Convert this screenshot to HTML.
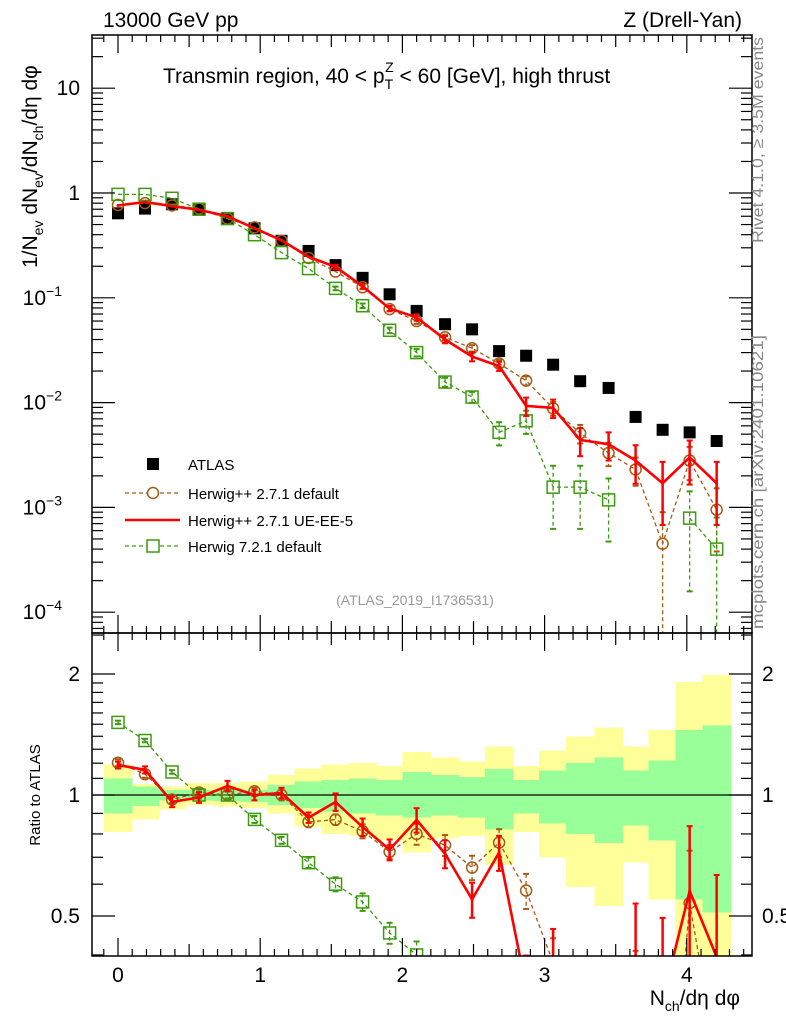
<!DOCTYPE html>
<html><head><meta charset="utf-8"><style>
html,body{margin:0;background:#fff;overflow:hidden;width:786px;height:1024px;}
svg{display:block;font-family:"Liberation Sans",sans-serif;}
</style></head><body>
<svg id="c" width="786" height="1024" xmlns="http://www.w3.org/2000/svg"></svg>
<script>
const xCenters=[0,0.19,0.38,0.57,0.77,0.96,1.15,1.34,1.53,1.72,1.91,2.1,2.3,2.49,2.68,2.87,3.06,3.25,3.45,3.64,3.83,4.02,4.21];
const atlas=[0.64,0.71,0.78,0.70,0.57,0.46,0.35,0.28,0.205,0.155,0.108,0.075,0.056,0.050,0.031,0.028,0.023,0.016,0.0138,0.0073,0.0055,0.0052,0.0043];
const herwigpp=[0.77,0.80,0.76,0.71,0.57,0.47,0.35,0.24,0.178,0.126,0.078,0.060,0.042,0.033,0.0236,0.0162,0.0088,0.0051,0.0033,0.0023,0.00045,0.0028,0.00095];
const herwigppErr=[0.02,0.02,0.02,0.02,0.02,0.02,0.03,0.03,0.03,0.04,0.04,0.06,0.06,0.07,0.08,0.1,0.15,0.2,0.25,0.3,1.0,0.35,0.6];
const ueee5=[0.76,0.82,0.75,0.69,0.60,0.46,0.354,0.246,0.197,0.129,0.079,0.065,0.040,0.0275,0.0223,0.0093,0.0089,0.0044,0.0040,0.0028,0.0017,0.0030,0.0017];
const ueee5Err=[0.02,0.02,0.03,0.03,0.03,0.03,0.03,0.03,0.05,0.05,0.06,0.07,0.08,0.1,0.1,0.2,0.2,0.3,0.3,0.4,0.6,0.45,0.6];
const herwig7=[0.97,0.97,0.89,0.70,0.57,0.40,0.27,0.19,0.123,0.084,0.049,0.030,0.0157,0.0113,0.0052,0.0067,0.00156,0.00156,0.00118,null,null,0.00079,0.0004];
const herwig7Err=[0.01,0.01,0.01,0.02,0.02,0.02,0.02,0.03,0.04,0.05,0.06,0.08,0.1,0.12,0.25,0.25,0.6,0.6,0.6,0,0,0.8,1.0];
const bandYUp=[1.19,1.065,1.05,1.07,1.07,1.08,1.12,1.165,1.19,1.20,1.18,1.28,1.24,1.21,1.32,1.18,1.29,1.40,1.47,1.32,1.45,1.91,1.99];
const bandYLo=[0.81,0.87,0.92,0.944,0.935,0.927,0.90,0.834,0.80,0.79,0.77,0.72,0.78,0.79,0.67,0.81,0.70,0.59,0.53,0.68,0.55,0.3,0.3];
const bandGUp=[1.10,1.05,1.03,1.03,1.025,1.03,1.06,1.08,1.09,1.10,1.09,1.14,1.12,1.11,1.16,1.09,1.15,1.20,1.24,1.15,1.22,1.45,1.49];
const bandGLo=[0.90,0.94,0.97,0.97,0.965,0.96,0.944,0.927,0.91,0.90,0.89,0.88,0.89,0.88,0.82,0.90,0.85,0.80,0.76,0.84,0.77,0.55,0.51];
const xTicks=[0,1,2,3,4];
const mainTicks=[10,1,0.1,0.01,0.001,0.0001];
const mainTickLabels=["10","1","10","10","10","10"];
const mainTickExps=["","","−1","−2","−3","−4"];
const ratioTicks=[0.5,1,2];
const ratioTickLabels=["0.5","1","2"];

const NS="http://www.w3.org/2000/svg";
const svg=document.getElementById('c');
const L=92,R=752,T=35,M=633,B=956;
const X=v=>118+v*142.2;
const Y=v=>193-104.8*Math.log10(v);
const RY=v=>795-121*Math.log2(v);
const hw=0.0957;
function el(tag,attrs,parent){const e=document.createElementNS(NS,tag);for(const k in attrs)e.setAttribute(k,attrs[k]);(parent||svg).appendChild(e);return e;}
function txt(s,attrs,parent){const e=el('text',attrs,parent);e.textContent=s;return e;}
const clipD=el('defs',{});
const cp1=el('clipPath',{id:'cm'},clipD);el('rect',{x:L,y:T,width:R-L,height:M-T},cp1);
const cp2=el('clipPath',{id:'cr'},clipD);el('rect',{x:L,y:M,width:R-L,height:B-M},cp2);

const gBand=el('g',{'clip-path':'url(#cr)','shape-rendering':'crispEdges'});


xCenters.forEach((c,i)=>{
  const x0=X(c-hw),x1=X(c+hw);
  const y=el('rect',{x:x0-0.5,y:RY(bandYUp[i]),width:x1-x0+1.5,height:RY(bandYLo[i])-RY(bandYUp[i]),fill:'#ffff99'},gBand);
  
  
});
xCenters.forEach((c,i)=>{
  const x0=X(c-hw),x1=X(c+hw);
  const g=el('rect',{x:x0-0.5,y:RY(bandGUp[i]),width:x1-x0+1.5,height:RY(bandGLo[i])-RY(bandGUp[i]),fill:'#99ff99'},gBand);
  
  
});
el('line',{x1:L,x2:R,y1:RY(1),y2:RY(1),stroke:'#000','stroke-width':1.3});

function drawSeries(vals,errs,color,dash,marker,width,clip,yf,isRatio,name){
  const g=el('g',{'clip-path':clip});
  
  
  let segs=[],cur=[];
  vals.forEach((v,i)=>{let val=v;if(v==null){if(cur.length)segs.push(cur);cur=[];return;}
    if(isRatio)val=v/atlas[i];cur.push([X(xCenters[i]),yf(val)]);});
  if(cur.length)segs.push(cur);
  segs.forEach(s=>{const p=el('polyline',{points:s.map(q=>q.join(',')).join(' '),fill:'none',stroke:color,'stroke-width':width,'stroke-dasharray':dash||'none'},g);
    });
  vals.forEach((v,i)=>{if(v==null)return;let val=isRatio?v/atlas[i]:v;const x=X(xCenters[i]);
    const e=errs[i];const lo=Math.max(val*(1-e),1e-9),hi=val*(1+e);
    const y1=yf(hi),y2=yf(lo),yc=yf(val);
    if(y2-y1>3){el('line',{x1:x,x2:x,y1:y1,y2:y2,stroke:color,'stroke-width':width>2?2.5:1.3,'stroke-dasharray':dash||'none'},g);
      el('line',{x1:x-3,x2:x+3,y1:y1,y2:y1,stroke:color,'stroke-width':2},g);
      el('line',{x1:x-3,x2:x+3,y1:y2,y2:y2,stroke:color,'stroke-width':2},g);}
    let m;
    if(marker==='circle')m=el('circle',{cx:x,cy:yc,r:5.5,fill:'none',stroke:color,'stroke-width':1.5},g);
    else if(marker==='square')m=el('rect',{x:x-6,y:yc-6,width:12,height:12,fill:'none',stroke:color,'stroke-width':1.5},g);
    else m=el('circle',{cx:x,cy:yc,r:1.5,fill:color},g);
    
    
  });
}
const ga=el('g',{'clip-path':'url(#cm)'});


atlas.forEach((v,i)=>{const r=el('rect',{x:X(xCenters[i])-6,y:Y(v)-6,width:12,height:12,fill:'#000'},ga);
  
  });
drawSeries(herwigpp,herwigppErr,'#a65b14','4,3','circle',1.3,'url(#cm)',Y,false,'herwigpp-default');
drawSeries(herwig7,herwig7Err,'#3d9a0e','4,3','square',1.3,'url(#cm)',Y,false,'herwig7-default');
drawSeries(ueee5,ueee5Err,'#ff0000',null,'dot',2.6,'url(#cm)',Y,false,'herwigpp-ueee5');
drawSeries(herwigpp,herwigppErr,'#a65b14','4,3','circle',1.3,'url(#cr)',RY,true,'ratio-herwigpp-default');
drawSeries(herwig7,herwig7Err,'#3d9a0e','4,3','square',1.3,'url(#cr)',RY,true,'ratio-herwig7-default');
drawSeries(ueee5,ueee5Err,'#ff0000',null,'dot',2.6,'url(#cr)',RY,true,'ratio-herwigpp-ueee5');

el('rect',{x:L,y:T,width:R-L,height:M-T,fill:'none',stroke:'#000','stroke-width':1.5});
el('rect',{x:L,y:M,width:R-L,height:B-M,fill:'none',stroke:'#000','stroke-width':1.5});
for(let k=-1;k<=45;k++){const v=k/10;const x=X(v);if(x<=L||x>=R)continue;
  const len=(k%10===0)?18:(k%5===0?12:7);
  [[T,1],[M,-1],[M,1],[B,-1]].forEach(([yy,d])=>el('line',{x1:x,x2:x,y1:yy,y2:yy+d*len,stroke:'#000','stroke-width':1.2}));}
xTicks.forEach(v=>{const t=txt(String(v),{x:X(v),y:982,'font-size':21,'text-anchor':'middle'});
  });
for(let e=-5;e<=1;e++){for(let m=1;m<10;m++){const v=m*Math.pow(10,e);const y=Y(v);if(y<=T||y>=M)continue;
  const len=m===1?23:11;
  el('line',{x1:L,x2:L+len,y1:y,y2:y,stroke:'#000','stroke-width':1.2});
  el('line',{x1:R,x2:R-len,y1:y,y2:y,stroke:'#000','stroke-width':1.2});}}
mainTicks.forEach((v,i)=>{const t=el('text',{x:80,y:Y(v)+7,'font-size':21,'text-anchor':'end'});
  
  if(mainTickExps[i]){t.setAttribute('x',62);t.textContent=mainTickLabels[i];
    const s=el('tspan',{dy:-9,'font-size':14},t);s.textContent=mainTickExps[i];}
  else t.textContent=mainTickLabels[i];});
[0.4,0.5,0.6,0.7,0.8,0.9,1,1.1,1.2,1.3,1.4,1.5,1.6,1.7,1.8,1.9,2,2.5].forEach(v=>{const y=RY(v);if(y<=M||y>=B)return;
  const len=(v===0.5||v===1||v===2)?23:11;
  el('line',{x1:L,x2:L+len,y1:y,y2:y,stroke:'#000','stroke-width':1.2});
  el('line',{x1:R,x2:R-len,y1:y,y2:y,stroke:'#000','stroke-width':1.2});});
ratioTicks.forEach((v,i)=>{const a=txt(ratioTickLabels[i],{x:80,y:RY(v)+7,'font-size':21,'text-anchor':'end'});
  
  const b=txt(ratioTickLabels[i],{x:762,y:RY(v)+7,'font-size':21,'text-anchor':'start'});
  });
</script>
<script>
(function(){
const svg=document.getElementById('c');
svg.insertAdjacentHTML('beforeend',`
<text x="103" y="27" font-size="21">13000 GeV pp</text>
<text x="742" y="27" font-size="21" text-anchor="end">Z (Drell-Yan)</text>
<text x="163" y="83" font-size="21">Transmin region, 40 &lt; p<tspan dy="6" font-size="14">T</tspan><tspan dx="-8" dy="-17" font-size="14">Z</tspan><tspan dy="11"> &lt; 60 [GeV], high thrust</tspan></text>
<text transform="translate(37,268) rotate(-90)" font-size="21">1/N<tspan dy="6" font-size="14">ev</tspan><tspan dy="-6"> dN</tspan><tspan dy="6" font-size="14">ev</tspan><tspan dy="-6">/dN</tspan><tspan dy="6" font-size="14">ch</tspan><tspan dy="-6">/dη dφ</tspan></text>
<text transform="translate(40,795) rotate(-90)" font-size="15" text-anchor="middle">Ratio to ATLAS</text>
<text x="740" y="1005" font-size="21" text-anchor="end">N<tspan dy="6" font-size="14">ch</tspan><tspan dy="-6">/dη dφ</tspan></text>
<text transform="translate(763,140) rotate(-90)" font-size="16" fill="#888" text-anchor="middle" textLength="206" lengthAdjust="spacingAndGlyphs">Rivet 4.1.0, ≥ 3.5M events</text>
<text transform="translate(763,482) rotate(-90)" font-size="16" fill="#888" text-anchor="middle" textLength="294" lengthAdjust="spacingAndGlyphs">mcplots.cern.ch [arXiv:2401.10621]</text>
<text x="415" y="605" font-size="14" fill="#999" text-anchor="middle">(ATLAS_2019_I1736531)</text>
<g font-size="15">
 <g><rect x="147" y="458" width="12" height="12" fill="#000"/><text x="188" y="470">ATLAS</text></g>
 <g><line x1="125" x2="180" y1="493" y2="493" stroke="#a65b14" stroke-width="1.3" stroke-dasharray="4,3"/><circle cx="153" cy="493" r="5.5" fill="#fff" stroke="#a65b14" stroke-width="1.5"/><text x="188" y="499">Herwig++ 2.7.1 default</text></g>
 <g><line x1="125" x2="180" y1="520" y2="520" stroke="#ff0000" stroke-width="2.6"/><text x="188" y="526">Herwig++ 2.7.1 UE-EE-5</text></g>
 <g><line x1="125" x2="180" y1="546" y2="546" stroke="#3d9a0e" stroke-width="1.3" stroke-dasharray="4,3"/><rect x="147" y="540" width="12" height="12" fill="#fff" stroke="#3d9a0e" stroke-width="1.5"/><text x="188" y="552">Herwig 7.2.1 default</text></g>
</g>`);
})();
</script>
</body></html>
